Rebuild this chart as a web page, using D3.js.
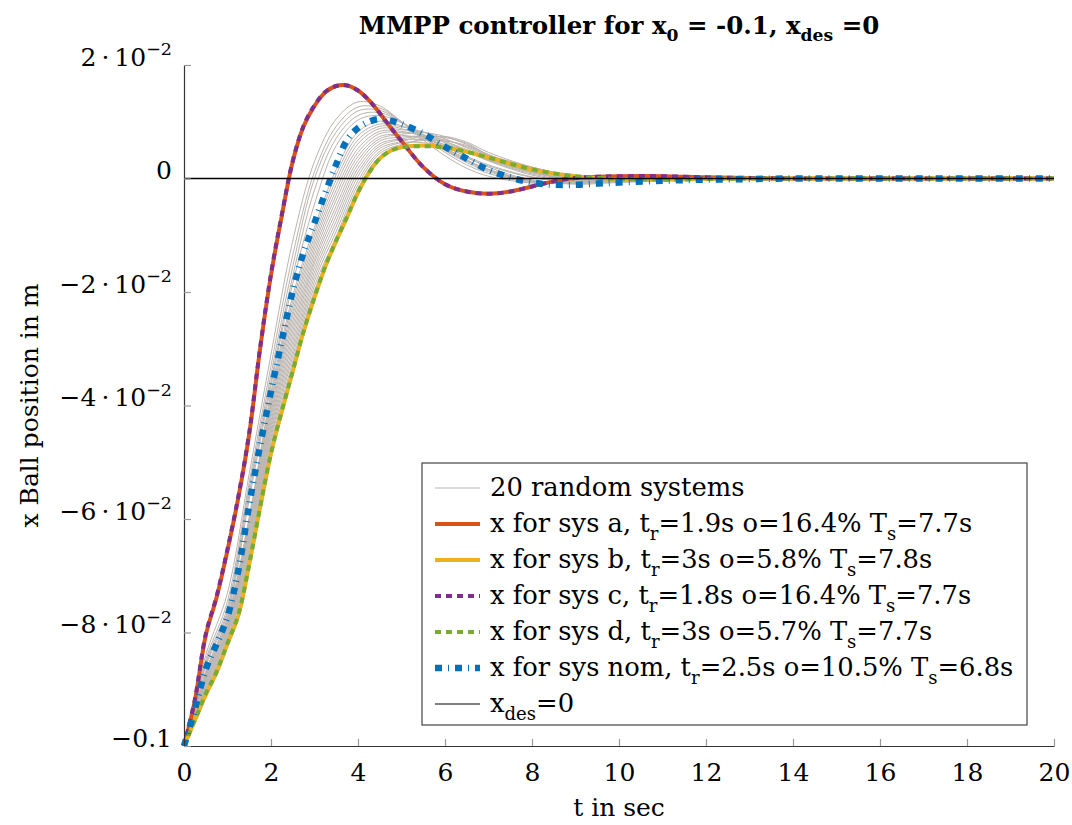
<!DOCTYPE html>
<html>
<head>
<meta charset="utf-8">
<script src="https://cdn.jsdelivr.net/npm/d3@7"></script>
<style>
body { margin: 0; background: #fff; }
text { font-family: "DejaVu Serif", serif; fill: #000; }
</style>
</head>
<body>
<div class="chart"></div>
<script>
// time grid of the highlighted systems (s)
const tMain = [0,0.25,0.5,0.75,1,1.25,1.5,1.75,2,2.25,2.5,2.75,3,3.25,3.5,3.75,4,4.25,4.5,4.75,5,5.5,6,6.5,7,7.5,8,8.5,9,9.5,10,11,12,13,14,16,18,20];

const sysA = [-0.1,-0.092,-0.0805,-0.0738,-0.0655,-0.0562,-0.0450,-0.0300,-0.0170,-0.0065,0.0030,0.0092,0.0128,0.0152,0.0163,0.0164,0.0155,0.0138,0.0115,0.0090,0.0066,0.0020,-0.0010,-0.0023,-0.0027,-0.0023,-0.0014,-0.0005,0.0001,0.0003,0.0004,0.0004,0.0002,0.0001,0,0,0,0];
const sysB = [-0.1,-0.0955,-0.0910,-0.0870,-0.0820,-0.0770,-0.0680,-0.0580,-0.0485,-0.0410,-0.0340,-0.0270,-0.0210,-0.0155,-0.0110,-0.0068,-0.0025,0.0010,0.0035,0.0049,0.0055,0.0058,0.0055,0.0047,0.0037,0.0026,0.0016,0.0009,0.0004,0.0001,-0.0001,-0.0002,-0.0001,0,0,0,0,0];
const sysC = [-0.1,-0.0918,-0.0803,-0.0736,-0.0653,-0.0560,-0.0448,-0.0298,-0.0168,-0.0063,0.0031,0.0093,0.0129,0.0153,0.0163,0.0164,0.0155,0.0138,0.0115,0.0090,0.0066,0.0020,-0.0010,-0.0023,-0.0027,-0.0023,-0.0014,-0.0005,0.0001,0.0003,0.0004,0.0004,0.0002,0.0001,0,0,0,0];
const sysD = [-0.1,-0.0954,-0.0908,-0.0869,-0.0819,-0.0768,-0.0679,-0.0579,-0.0484,-0.0409,-0.0339,-0.0269,-0.0209,-0.0154,-0.0109,-0.0067,-0.0024,0.0010,0.0035,0.0049,0.0055,0.0057,0.0055,0.0047,0.0037,0.0026,0.0016,0.0009,0.0004,0.0001,-0.0001,-0.0002,-0.0001,0,0,0,0,0];
const sysNom = [-0.1,-0.0935,-0.0865,-0.0820,-0.0772,-0.0690,-0.0575,-0.0470,-0.0375,-0.0285,-0.0198,-0.0130,-0.0078,-0.0025,0.0025,0.0068,0.0089,0.0100,0.0105,0.0102,0.0096,0.0079,0.0056,0.0035,0.0015,0.0002,-0.0007,-0.0011,-0.0011,-0.0009,-0.0007,-0.0004,-0.0002,-0.0001,0,0,0,0];

// time grid of the 20 random systems
const tRand = [0,0.5,1,1.5,2,2.5,3,3.5,4,4.5,5,5.5,6,6.5,7,8,9,10,12,20];
const randomSystems = [
  [-0.1,-0.0840,-0.0730,-0.0520,-0.0310,-0.0110,0.0030,0.0105,0.0135,0.0128,0.0100,0.0068,0.0040,0.0018,0.0004,-0.0008,-0.0007,-0.0002,0.0001,0],
  [-0.1,-0.0848,-0.0745,-0.0535,-0.0330,-0.0135,0.0012,0.0092,0.0126,0.0124,0.0100,0.0072,0.0046,0.0024,0.0009,-0.0007,-0.0008,-0.0003,0,0],
  [-0.1,-0.0853,-0.0755,-0.0545,-0.0345,-0.0155,0.0000,0.0082,0.0119,0.0120,0.0100,0.0074,0.0049,0.0028,0.0012,-0.0006,-0.0008,-0.0004,0,0],
  [-0.1,-0.0857,-0.0762,-0.0555,-0.0357,-0.0172,-0.0020,0.0071,0.0111,0.0116,0.0099,0.0076,0.0052,0.0031,0.0014,-0.0005,-0.0008,-0.0004,-0.0001,0],
  [-0.1,-0.0860,-0.0767,-0.0565,-0.0365,-0.0185,-0.0045,0.0058,0.0103,0.0111,0.0098,0.0077,0.0054,0.0033,0.0016,-0.0004,-0.0008,-0.0005,-0.0001,0],
  [-0.1,-0.0868,-0.0773,-0.0596,-0.0377,-0.0207,-0.0086,0.0016,0.0082,0.0101,0.0093,0.0078,0.0058,0.0038,0.0020,-0.0003,-0.0010,-0.0007,-0.0002,0],
  [-0.1,-0.0870,-0.0776,-0.0601,-0.0384,-0.0216,-0.0094,0.0007,0.0075,0.0096,0.0091,0.0082,0.0066,0.0048,0.0031,0.0006,-0.0006,-0.0006,-0.0002,0],
  [-0.1,-0.0873,-0.0779,-0.0607,-0.0392,-0.0225,-0.0102,-0.0002,0.0068,0.0092,0.0088,0.0072,0.0050,0.0031,0.0016,-0.0004,-0.0009,-0.0005,-0.0001,0],
  [-0.1,-0.0875,-0.0783,-0.0613,-0.0399,-0.0234,-0.0110,-0.0011,0.0061,0.0088,0.0086,0.0082,0.0070,0.0054,0.0038,0.0012,-0.0003,-0.0005,-0.0002,0],
  [-0.1,-0.0878,-0.0786,-0.0618,-0.0406,-0.0242,-0.0118,-0.0020,0.0053,0.0083,0.0083,0.0074,0.0056,0.0039,0.0024,0.0003,-0.0006,-0.0005,-0.0001,0],
  [-0.1,-0.0880,-0.0789,-0.0624,-0.0413,-0.0251,-0.0126,-0.0029,0.0046,0.0079,0.0081,0.0076,0.0063,0.0047,0.0032,0.0008,-0.0004,-0.0004,-0.0001,0],
  [-0.1,-0.0883,-0.0792,-0.0629,-0.0420,-0.0260,-0.0134,-0.0038,0.0039,0.0074,0.0078,0.0081,0.0074,0.0060,0.0042,0.0016,0.0000,-0.0004,-0.0002,0],
  [-0.1,-0.0885,-0.0795,-0.0635,-0.0428,-0.0269,-0.0142,-0.0048,0.0032,0.0070,0.0076,0.0069,0.0052,0.0036,0.0022,0.0002,-0.0006,-0.0004,-0.0001,0],
  [-0.1,-0.0888,-0.0798,-0.0641,-0.0435,-0.0278,-0.0149,-0.0057,0.0025,0.0066,0.0073,0.0074,0.0065,0.0051,0.0036,0.0011,-0.0002,-0.0004,-0.0001,0],
  [-0.1,-0.0890,-0.0801,-0.0646,-0.0442,-0.0287,-0.0157,-0.0066,0.0018,0.0061,0.0070,0.0074,0.0068,0.0056,0.0040,0.0015,0.0001,-0.0003,-0.0001,0],
  [-0.1,-0.0893,-0.0804,-0.0652,-0.0449,-0.0296,-0.0165,-0.0075,0.0011,0.0057,0.0068,0.0068,0.0060,0.0047,0.0033,0.0010,-0.0002,-0.0004,-0.0001,0],
  [-0.1,-0.0895,-0.0808,-0.0658,-0.0456,-0.0305,-0.0173,-0.0084,0.0004,0.0053,0.0065,0.0074,0.0072,0.0062,0.0042,0.0020,0.0003,-0.0003,-0.0001,0],
  [-0.1,-0.0898,-0.0811,-0.0663,-0.0463,-0.0313,-0.0181,-0.0093,-0.0004,0.0048,0.0063,0.0063,0.0057,0.0046,0.0034,0.0012,0.0000,-0.0003,-0.0001,0],
  [-0.1,-0.0900,-0.0814,-0.0669,-0.0471,-0.0322,-0.0189,-0.0102,-0.0011,0.0044,0.0060,0.0067,0.0066,0.0058,0.0041,0.0020,0.0004,-0.0002,-0.0001,0],
  [-0.1,-0.0903,-0.0817,-0.0674,-0.0478,-0.0331,-0.0197,-0.0111,-0.0018,0.0039,0.0058,0.0070,0.0074,0.0064,0.0046,0.0020,0.0004,-0.0001,-0.0001,0]
];

const xTicks = [0,2,4,6,8,10,12,14,16,18,20];
const yTicks = [0.02,0,-0.02,-0.04,-0.06,-0.08,-0.1];
const yTickLabels = [["2\u2009\u00B7\u200910","\u22122"],["0"],["\u22122\u2009\u00B7\u200910","\u22122"],["\u22124\u2009\u00B7\u200910","\u22122"],["\u22126\u2009\u00B7\u200910","\u22122"],["\u22128\u2009\u00B7\u200910","\u22122"],["\u22120.1"]];

const legendLabels = [
  [["20 random systems"]],
  [["x for sys a, t"],["r","sub"],["=1.9s o=16.4% T"],["s","sub"],["=7.7s"]],
  [["x for sys b, t"],["r","sub"],["=3s o=5.8% T"],["s","sub"],["=7.8s"]],
  [["x for sys c, t"],["r","sub"],["=1.8s o=16.4% T"],["s","sub"],["=7.7s"]],
  [["x for sys d, t"],["r","sub"],["=3s o=5.7% T"],["s","sub"],["=7.7s"]],
  [["x for sys nom, t"],["r","sub"],["=2.5s o=10.5% T"],["s","sub"],["=6.8s"]],
  [["x"],["des","sub"],["=0"]]
];

const W = 1072, H = 825;
const margin = {top: 65, right: 18, bottom: 79, left: 184};
const width = W - margin.left - margin.right;
const height = H - margin.top - margin.bottom;

const svg = d3.select('.chart').append('svg')
  .attr('width', W)
  .attr('height', H);

const g = svg.append('g')
  .attr('transform', `translate(${margin.left},${margin.top})`);

const xScale = d3.scaleLinear().domain([0, 20]).range([0, width]);
const yScale = d3.scaleLinear().domain([-0.1, 0.02]).range([height, 0]);

// writes text with sub/superscripts
function rich(sel, parts, size) {
  parts.forEach((p, i) => {
    const kind = p[1];
    const prev = i > 0 ? parts[i - 1][1] : null;
    let dy = 0;
    if (kind === 'sub') dy = size * 0.3;
    else if (kind === 'sup') dy = -size * 0.42;
    if (prev === 'sub') dy -= size * 0.3;
    if (prev === 'sup') dy += size * 0.42;
    sel.append('tspan')
      .attr('dy', dy)
      .style('font-size', kind ? (size * 0.7) + 'px' : size + 'px')
      .text(p[0]);
  });
}

const line = (ts) => d3.line()
  .x((d, i) => xScale(ts[i]))
  .y(d => yScale(d))
  .curve(d3.curveCatmullRom.alpha(0.5));

// 20 random systems
g.selectAll('.rand')
  .data(randomSystems)
  .enter()
  .append('path')
  .attr('class', 'rand')
  .attr('d', line(tRand))
  .style('fill', 'none')
  .style('stroke', '#bab3ae')
  .style('stroke-width', 1);

const series = [
  {vals: sysA, color: '#D95319', w: 4, dash: null},
  {vals: sysB, color: '#EDB120', w: 4, dash: null},
  {vals: sysC, color: '#7E2F8E', w: 4, dash: '6,5'},
  {vals: sysD, color: '#77AC30', w: 4, dash: '6,5'},
  {vals: sysNom, color: '#0072BD', w: 6.5, dash: '7,6,1,6'}
];

series.forEach(s => {
  g.append('path')
    .datum(s.vals)
    .attr('d', line(tMain))
    .style('fill', 'none')
    .style('stroke', s.color)
    .style('stroke-width', s.w)
    .style('stroke-linejoin', 'round')
    .style('stroke-dasharray', s.dash);
});

// x_des = 0
g.append('line')
  .attr('x1', xScale(0)).attr('x2', xScale(20))
  .attr('y1', yScale(0)).attr('y2', yScale(0))
  .style('stroke', '#000')
  .style('stroke-width', 1.3);

// axes
const xAxis = d3.axisBottom(xScale)
  .tickValues(xTicks)
  .tickSizeInner(-7).tickSizeOuter(0)
  .tickPadding(17);

const yAxis = d3.axisLeft(yScale)
  .tickValues(yTicks)
  .tickSizeInner(-7).tickSizeOuter(0)
  .tickPadding(12)
  .tickFormat('');

const gx = g.append('g')
  .attr('transform', `translate(0,${height})`)
  .call(xAxis);
const gy = g.append('g').call(yAxis);

[gx, gy].forEach(a => {
  a.select('.domain').style('stroke', '#333').style('stroke-width', 1.2);
  a.selectAll('.tick line').style('stroke', '#999').style('stroke-width', 1.2);
  a.selectAll('text').style('font-family', '"DejaVu Serif", serif').style('font-size', '25px');
});

gy.selectAll('.tick text').each(function(d, i) {
  const t = d3.select(this).attr('dy', '0.36em');
  const lab = yTickLabels[yTicks.indexOf(d)];
  const parts = lab.length > 1 ? [[lab[0]], [lab[1], 'sup']] : [[lab[0]]];
  rich(t, parts, 25);
});

// axis labels and title
svg.append('text')
  .attr('x', margin.left + width / 2)
  .attr('y', 816)
  .attr('text-anchor', 'middle')
  .style('font-size', '25px')
  .text('t in sec');

svg.append('text')
  .attr('transform', `translate(38,${margin.top + height / 2}) rotate(-90)`)
  .attr('text-anchor', 'middle')
  .style('font-size', '25px')
  .text('x Ball position in m');

const title = svg.append('text')
  .attr('x', margin.left + width / 2)
  .attr('y', 34)
  .attr('text-anchor', 'middle')
  .style('font-weight', 'bold');
rich(title, [['MMPP controller for x'], ['0', 'sub'], [' = -0.1, x'], ['des', 'sub'], [' =0']], 24.5);

// legend
const legend = svg.append('g').attr('transform', 'translate(422,463)');
legend.append('rect')
  .attr('width', 605).attr('height', 262)
  .style('fill', '#fff')
  .style('stroke', '#444')
  .style('stroke-width', 1.2);

const legendKeys = [
  {color: '#bab3ae', w: 1, dash: null},
  ...series.map(s => ({color: s.color, w: s.w, dash: s.dash})),
  {color: '#000', w: 1, dash: null}
];

legendKeys.forEach((k, i) => {
  const yc = 25 + i * 36;
  legend.append('line')
    .attr('x1', 13).attr('x2', 58)
    .attr('y1', yc).attr('y2', yc)
    .style('stroke', k.color)
    .style('stroke-width', k.w)
    .style('stroke-dasharray', k.dash);
  const t = legend.append('text')
    .attr('x', 68).attr('y', yc + 8);
  rich(t, legendLabels[i], 25.8);
});
</script>
</body>
</html>
